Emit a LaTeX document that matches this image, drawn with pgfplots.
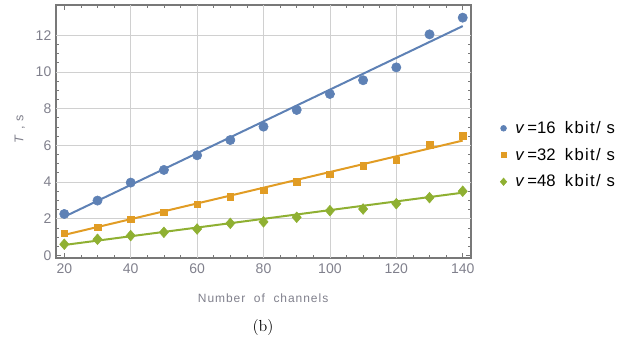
\documentclass[border=0pt]{standalone}
\usepackage{fontspec}
\setmainfont{Liberation Sans}
\newfontfamily\capfont{Latin Modern Roman}
\newfontfamily\spfont[LetterSpace=8]{Liberation Sans}
\usepackage{pgfplots}
\pgfplotsset{compat=1.18}
\definecolor{c1}{RGB}{94,129,181}
\definecolor{c2}{RGB}{225,156,36}
\definecolor{c3}{RGB}{143,176,50}
\definecolor{framec}{RGB}{120,120,120}
\definecolor{tickc}{RGB}{128,128,140}
\definecolor{gridc}{RGB}{208,208,208}
\begin{document}
\begin{tikzpicture}
\path[use as bounding box] (-42pt,-66.75pt) rectangle (438.75pt,193.5pt);
\begin{axis}[
  scale only axis,
  width=311.25pt, height=189.75pt,
  at={(0,0)}, anchor=south west,
  xmin=17.5, xmax=142.5,
  ymin=-0.14, ymax=13.65,
  xtick={20,40,60,80,100,120,140},
  ytick={0,2,4,6,8,10,12},
  minor x tick num=3,
  minor y tick num=3,
  tick align=inside,
  major tick length=4pt,
  minor tick length=2.5pt,
  axis line style={framec, line width=0.8pt},
  every tick/.style={framec, line width=0.6pt},
  grid=none,
  extra x ticks={40,60,80,100,120},
  extra x tick labels={},
  extra x tick style={xmajorgrids=true, major tick length=0pt},
  extra y ticks={2,4,6,8,10,12},
  extra y tick labels={},
  extra y tick style={ymajorgrids=true, major tick length=0pt},
  major grid style={gridc, line width=0.6pt},
  /pgf/number format/assume math mode=true,
  ticklabel style={font=\fontsize{10.5}{12}\selectfont, text=tickc},
  xticklabel style={yshift=-1pt},
  xlabel={\spfont Number\ \ of\ \ channels},
  ylabel={\spfont\textit{T}\ ,\ s},
  xlabel style={font=\fontsize{9}{10}\selectfont, text=tickc, at={(axis description cs:0.499,-0.158)}, anchor=center},
  ylabel style={font=\fontsize{9.5}{10}\selectfont, text=tickc, at={(axis description cs:-0.087,0.51)}, anchor=center},
  clip=false,
  legend style={at={(axis description cs:1.07,0.407)}, anchor=west, draw=none, fill=none,
    font=\fontsize{12.5}{14}\selectfont, row sep=5.5pt, inner sep=0pt,
    /tikz/every odd column/.append style={column sep=4.5pt}},
  legend cell align=left,
]
% fit lines
\addplot[c1, line width=1.5pt, forget plot] coordinates {(20,2.11) (140,12.5)};
\addplot[c2, line width=1.5pt, forget plot] coordinates {(20,1.12) (140,6.26)};
\addplot[c3, line width=1.5pt, forget plot] coordinates {(20,0.57) (140,3.42)};
% data
\addplot[only marks, mark=*, mark size=3.5pt, color=c1, forget plot] coordinates {
(20,2.26) (30,2.99) (40,3.97) (50,4.66) (60,5.46) (70,6.29) (80,7.02)
(90,7.93) (100,8.80) (110,9.55) (120,10.25) (130,12.05) (140,12.96)};
\addplot[only marks, mark=square*, mark size=2.5pt, color=c2, forget plot] coordinates {
(20,1.21) (30,1.54) (40,1.97) (50,2.35) (60,2.79) (70,3.20) (80,3.55)
(90,4.02) (100,4.42) (110,4.90) (120,5.19) (130,6.02) (140,6.53)};
\addplot[only marks, mark=diamond*, mark size=4pt, mark options={xscale=1.15}, color=c3, forget plot] coordinates {
(20,0.61) (30,0.88) (40,1.08) (50,1.26) (60,1.44) (70,1.75) (80,1.83)
(90,2.08) (100,2.44) (110,2.53) (120,2.82) (130,3.15) (140,3.50)};
\addlegendimage{only marks, mark=*, mark size=2.2pt, color=c1}
\addlegendentry{\textit{v}\,=16\ \ {\spfont kbit/\ s}}
\addlegendimage{only marks, mark=square*, mark size=1.8pt, color=c2}
\addlegendentry{\textit{v}\,=32\ \ {\spfont kbit/\ s}}
\addlegendimage{only marks, mark=diamond*, mark size=2.8pt, mark options={xscale=1.15}, color=c3}
\addlegendentry{\textit{v}\,=48\ \ {\spfont kbit/\ s}}
\node[font=\capfont\fontsize{12}{14}\selectfont, anchor=center] at (axis description cs:0.499,-0.273) {(b)};
\end{axis}
\end{tikzpicture}
\end{document}
